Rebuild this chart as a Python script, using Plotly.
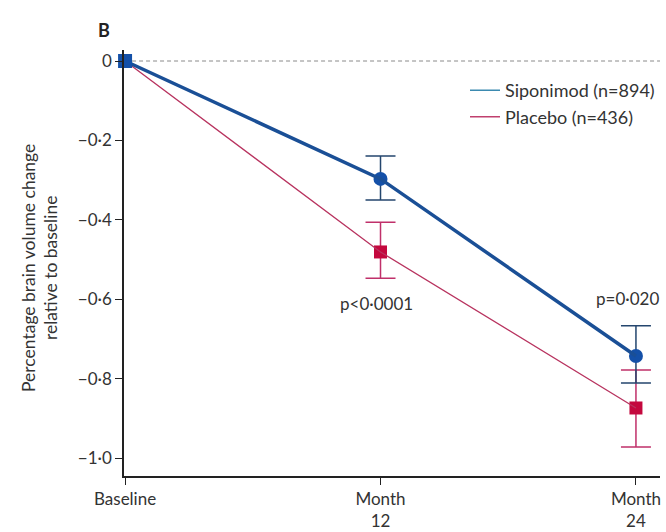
import plotly.graph_objects as go

months = [0, 12, 24]
tick_text = ["Baseline", "Month<br>12", "Month<br>24"]
y_ticks = [0, -0.2, -0.4, -0.6, -0.8, -1.0]
y_tick_text = ["0", "−0·2", "−0·4", "−0·6", "−0·8", "−1·0"]

sipo = [0, -0.297, -0.743]
sipo_up = [0, 0.058, 0.076]
sipo_dn = [0, 0.053, 0.068]
plac = [0, -0.481, -0.874]
plac_up = [0, 0.075, 0.096]
plac_dn = [0, 0.066, 0.098]

p_labels = ["p<0·0001", "p=0·020"]
p_x = [11.8, 23.6]
p_y = [-0.61, -0.597]

FONT = "Lato"
TXT = "#333333"
fig = go.Figure()

# zero reference line
fig.add_trace(go.Scatter(x=[0, 25.13], y=[0, 0], mode="lines",
                         line=dict(color="#8a8a8a", width=1, dash="4px,3px"),
                         showlegend=False, hoverinfo="skip", cliponaxis=False))

# placebo
fig.add_trace(go.Scatter(x=months[1:], y=plac[1:], mode="markers",
                         marker=dict(symbol="square", size=13, color="#c4083e"),
                         error_y=dict(type="data", symmetric=False, array=plac_up[1:],
                                      arrayminus=plac_dn[1:], color="#c0306a",
                                      thickness=1.5, width=15),
                         showlegend=False, cliponaxis=False))
fig.add_trace(go.Scatter(x=months, y=plac, mode="lines",
                         line=dict(color="#b8335f", width=1.3),
                         showlegend=False, cliponaxis=False))

# siponimod
fig.add_trace(go.Scatter(x=months[1:], y=sipo[1:], mode="markers",
                         marker=dict(symbol="circle", size=14, color="#1450a8"),
                         error_y=dict(type="data", symmetric=False, array=sipo_up[1:],
                                      arrayminus=sipo_dn[1:], color="#24466e",
                                      thickness=1.5, width=15),
                         showlegend=False, cliponaxis=False))
fig.add_trace(go.Scatter(x=months, y=sipo, mode="lines",
                         line=dict(color="#1a4f96", width=3.5),
                         showlegend=False, cliponaxis=False))
fig.add_trace(go.Scatter(x=[months[0]], y=[sipo[0]], mode="markers",
                         marker=dict(symbol="square", size=14, color="#1450a8"),
                         showlegend=False, cliponaxis=False))

# legend-only entries
fig.add_trace(go.Scatter(x=[None], y=[None], mode="lines", name="Siponimod (n=894)",
                         line=dict(color="#3b8ab0", width=1.5)))
fig.add_trace(go.Scatter(x=[None], y=[None], mode="lines", name="Placebo (n=436)",
                         line=dict(color="#c0406e", width=1.5)))

for t, x, y in zip(p_labels, p_x, p_y):
    fig.add_annotation(x=x, y=y, text=t, showarrow=False,
                       font=dict(family=FONT, size=17, color=TXT))

fig.add_annotation(xref="paper", yref="paper", x=-0.157, y=0.488,
                   xanchor="center", yanchor="middle",
                   text="Percentage brain volume change<br>relative to baseline",
                   textangle=-90, showarrow=False,
                   font=dict(family=FONT, size=17.5, color=TXT))
fig.add_annotation(xref="paper", yref="paper", x=-0.037, y=1.047,
                   xanchor="center", yanchor="middle",
                   text="<b>B</b>", showarrow=False,
                   font=dict(family=FONT, size=18, color="#222222"))

fig.update_layout(
    width=666, height=532,
    margin=dict(l=124, r=6, t=50, b=56, autoexpand=False),
    plot_bgcolor="white", paper_bgcolor="white",
    font=dict(family=FONT, size=17, color=TXT),
    legend=dict(x=1.0, y=0.948, xanchor="right", yanchor="top",
                bgcolor="rgba(0,0,0,0)", font=dict(family=FONT, size=18, color=TXT),
                tracegroupgap=0),
    xaxis=dict(range=[-0.05, 25.13], tickvals=months, ticktext=tick_text,
               automargin=False,
               showgrid=False, zeroline=False, showline=True, linecolor="#222222",
               linewidth=1.5, ticks="outside", ticklen=7, tickcolor="#222222",
               tickfont=dict(family=FONT, size=17, color=TXT)),
    yaxis=dict(range=[-1.0453, 0.0277], tickvals=y_ticks, ticktext=y_tick_text,
               automargin=False,
               showgrid=False, zeroline=False, showline=True, linecolor="#222222",
               linewidth=1.5, ticks="outside", ticklen=7, tickcolor="#222222",
               tickfont=dict(family=FONT, size=17, color=TXT)),
)

fig.write_html("out.html")
